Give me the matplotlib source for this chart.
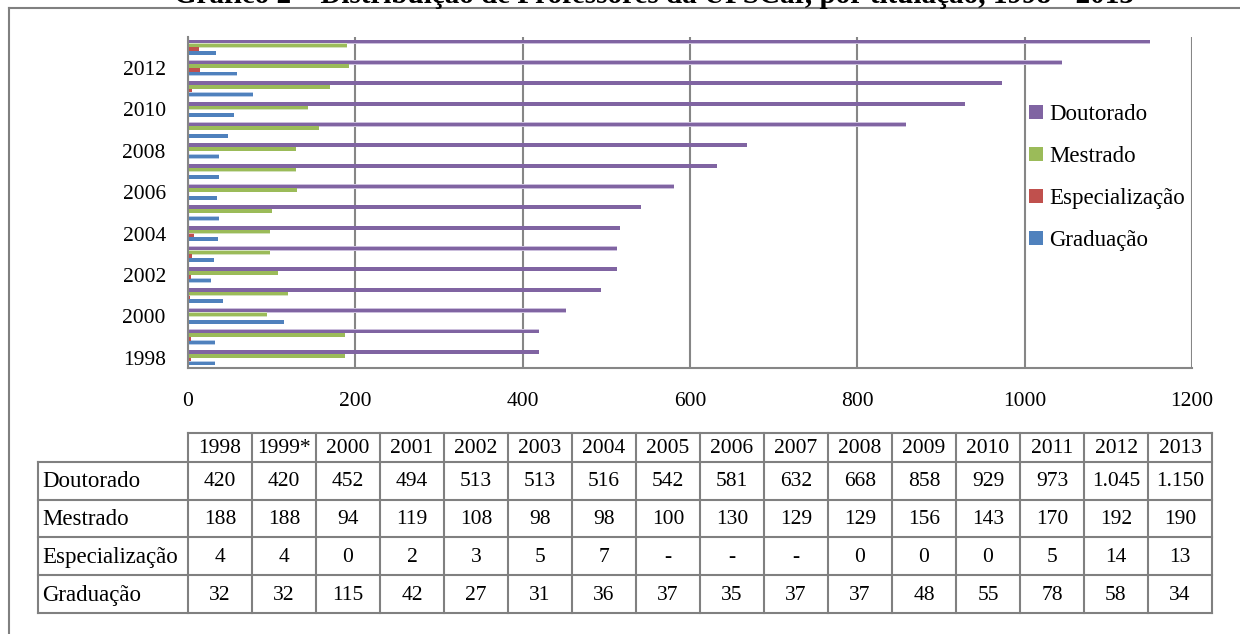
import matplotlib.pyplot as plt
from matplotlib.lines import Line2D
import numpy as np

plt.rcParams['font.family'] = ['Liberation Serif', 'DejaVu Serif']

# data
years = list(range(1998, 2014))
col_labels = ['1998', '1999*', '2000', '2001', '2002', '2003', '2004', '2005',
              '2006', '2007', '2008', '2009', '2010', '2011', '2012', '2013']
series_names = ['Doutorado', 'Mestrado', 'Especialização', 'Graduação']
doutorado = [420, 420, 452, 494, 513, 513, 516, 542, 581, 632, 668, 858, 929, 973, 1045, 1150]
mestrado = [188, 188, 94, 119, 108, 98, 98, 100, 130, 129, 129, 156, 143, 170, 192, 190]
especializacao = [4, 4, 0, 2, 3, 5, 7, None, None, None, 0, 0, 0, 5, 14, 13]
graduacao = [32, 32, 115, 42, 27, 31, 36, 37, 35, 37, 37, 48, 55, 78, 58, 34]

colors = ['#8064A2', '#9BBB59', '#C0504D', '#4F81BD']
edges = ['#CBBEDC', '#D3E2BC', '#E3B5B4', '#B6CBE6']
grid_c = '#868686'
fs_tick = 15.5
fs = 16.5

W, H = 1240, 634
fig = plt.figure(figsize=(W / 100, H / 100), dpi=100)

# overlay in pixel coordinates for frame, title and table
ov = fig.add_axes([0, 0, 1, 1])
ov.set_xlim(0, W)
ov.set_ylim(H, 0)
ov.axis('off')

# outer frame (only top and left visible)
ov.add_line(Line2D([9, 9], [H, 8], color='#808080', lw=1.5))
ov.add_line(Line2D([9, W], [8, 8], color='#808080', lw=1.5))

# title, cut off at the top edge like in the source
ov.text(654, 3, 'Gráfico 2 – Distribuição de Professores da UFSCar, por titulação, 1998 - 2013',
        ha='center', va='baseline', fontsize=21, fontweight='bold')

# bar chart
ax = fig.add_axes([188 / W, 1 - 368 / H, (1192 - 188) / W, (368 - 37) / H])
idx = np.arange(len(years))
h = 1 / 5.5
offsets = [1.5 * h, 0.5 * h, -0.5 * h, -1.5 * h]
all_vals = [doutorado, mestrado, especializacao, graduacao]
handles = []
for name, vals, off, c, ec in zip(series_names, all_vals, offsets, colors, edges):
    v = [0 if x is None else x for x in vals]
    # light halo behind each bar, then the solid bar
    ax.barh(idx + off, v, height=h * 1.15, color=ec, linewidth=0, zorder=2)
    b = ax.barh(idx + off, v, height=h * 0.95, color=c, linewidth=0,
                label=name, zorder=3)
    handles.append(b)

ax.set_xlim(0, 1200)
ax.set_ylim(-0.5, len(years) - 0.5)
ax.set_xticks(np.arange(0, 1201, 200))
ax.set_yticks(idx[::2])
ax.set_yticklabels([str(y) for y in years[::2]])
ax.tick_params(axis='both', length=0, labelsize=fs_tick)
ax.tick_params(axis='x', pad=17)
ax.tick_params(axis='y', pad=16)
ax.grid(axis='x', color=grid_c, lw=1.5, zorder=1)
for s in ['top', 'right']:
    ax.spines[s].set_visible(False)
for s in ['left', 'bottom']:
    ax.spines[s].set_color(grid_c)
    ax.spines[s].set_linewidth(1.5)
    ax.spines[s].set_zorder(4)

ax.legend(handles=handles, loc='upper left', bbox_to_anchor=(1029 / W, 1 - 104 / H),
          bbox_transform=fig.transFigure, frameon=False, fontsize=fs,
          handlelength=0.6, handleheight=0.6, handletextpad=0.3,
          labelspacing=0.92, borderpad=0, borderaxespad=0)

# data table
x0, xl, cw = 188, 38, 64
y_rows = [433, 462, 499.5, 537, 575, 613]
n = len(col_labels)
xr = x0 + cw * n
tc = '#808080'
ov.add_line(Line2D([x0, xr], [y_rows[0], y_rows[0]], color=tc, lw=1.5))
for yy in y_rows[1:]:
    ov.add_line(Line2D([xl, xr], [yy, yy], color=tc, lw=1.5))
ov.add_line(Line2D([xl, xl], [y_rows[1], y_rows[-1]], color=tc, lw=1.5))
for k in range(n + 1):
    xx = x0 + cw * k
    ov.add_line(Line2D([xx, xx], [y_rows[0], y_rows[-1]], color=tc, lw=1.5))


def fmt(v):
    if v is None:
        return '-'
    return f'{v:,}'.replace(',', '.')


for k, lab in enumerate(col_labels):
    ov.text(x0 + cw * (k + 0.5), (y_rows[0] + y_rows[1]) / 2 + 1, lab,
            ha='center', va='center', fontsize=fs_tick)
for r, (name, vals) in enumerate(zip(series_names, all_vals)):
    yc = (y_rows[r + 1] + y_rows[r + 2]) / 2 + 1
    ov.text(xl + 4, yc, name, ha='left', va='center', fontsize=fs)
    for k, v in enumerate(vals):
        ov.text(x0 + cw * (k + 0.5), yc, fmt(v), ha='center', va='center', fontsize=fs_tick)

fig.savefig('out.png', dpi=100)
